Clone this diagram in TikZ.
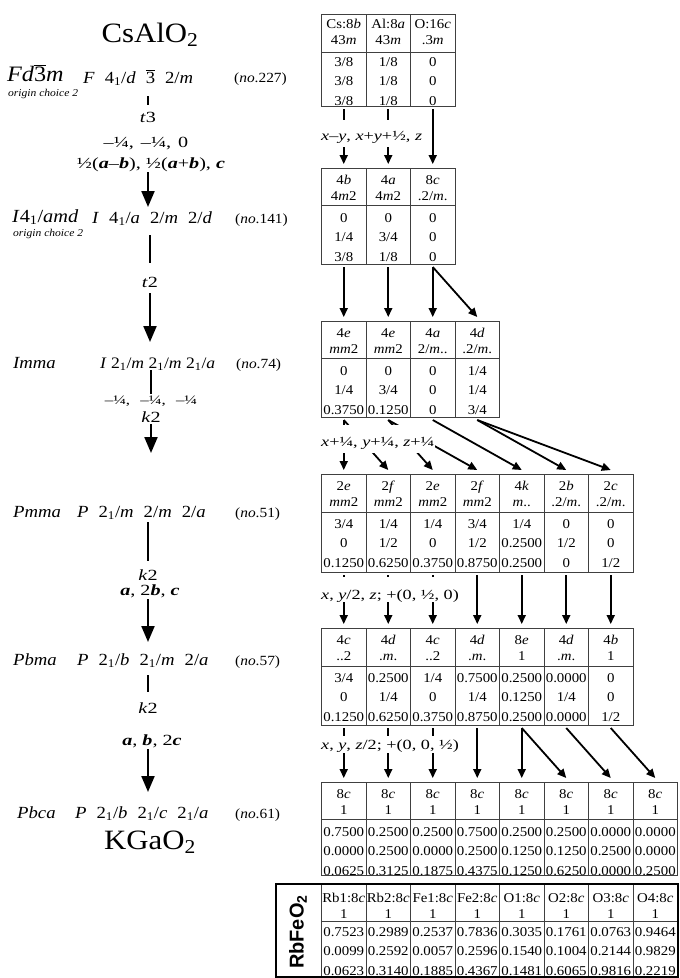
\documentclass[tikz,border=0pt]{standalone}
\usepackage{fontspec}
\setmainfont{Liberation Serif}[FakeStretch=1.1]
\newfontfamily\wide{Liberation Serif}[FakeStretch=1.3]
\newfontfamily\rbfont{Liberation Sans}
\usetikzlibrary{arrows.meta}
\newcommand\btr{\ensuremath{\overline{\mbox{3}}}}
\newcommand\bi[1]{\textbf{\textit{#1}}}
\newcommand\gp{\hspace{10pt}}
\def\hoffa{16}\def\hoffb{32.5}
\newcommand\tcol[8]{%
  \node[cell] (#1c#3a) at ({343.75+44.5*(#3-1)},{#2+\hoffa}) {#4};
  \node[cell] (#1c#3b) at ({343.75+44.5*(#3-1)},{#2+\hoffb}) {#5};
  \node[cell] (#1c#3x) at ({343.75+44.5*(#3-1)},{#2+54}) {#6};
  \node[cell] (#1c#3y) at ({343.75+44.5*(#3-1)},{#2+73.5}) {#7};
  \node[cell] (#1c#3z) at ({343.75+44.5*(#3-1)},{#2+93}) {#8};}
\newcommand\tgrid[4]{%
  \draw[grid] (321.5,#1) rectangle ({321.5+44.5*#4},#3);
  \draw[grid] (321.5,#2) -- ({321.5+44.5*#4},#2);
  \foreach \k in {2,...,#4}{\draw[grid] ({321.5+44.5*(\k-1)},#1) -- ({321.5+44.5*(\k-1)},#3);}}
\newcommand\tcoords[4]{%
  \foreach \k in {1,...,#4}{%
    \coordinate (#1top\k) at ({343.75+44.5*(\k-1)},{#2-4});
    \coordinate (#1bot\k) at ({343.75+44.5*(\k-1)},{#3+3});}}
\begin{document}
\begin{tikzpicture}[x=1pt,y=-1pt,
  cell/.style={font=\fontsize{13.5}{15}\selectfont, inner sep=0pt, anchor=base},
  grid/.style={draw=black!75, line width=0.8pt},
  ra/.style={line width=1.8pt, -{Triangle[length=9pt,width=8pt]}},
  la/.style={line width=2.2pt, -{Triangle[length=16pt,width=13pt]}},
  ll/.style={line width=2.2pt},
  sym/.style={font=\fontsize{17}{19}\selectfont, inner sep=0pt, anchor=base west},
  big/.style={font=\fontsize{22}{24}\selectfont, inner sep=0pt, anchor=base west},
  num/.style={font=\fontsize{14}{16}\selectfont, inner sep=0pt, anchor=base west},
  oc/.style={font=\fontsize{10.5}{12}\selectfont\itshape, inner sep=0pt, anchor=base west},
  tl/.style={font=\wide\fontsize{15.5}{17}\selectfont, inner sep=0pt, anchor=base},
  lbl/.style={fill=white, font=\wide\fontsize{14}{16}\selectfont, inner xsep=1pt, inner ysep=0pt, anchor=base west},
  title/.style={font=\fontsize{28}{30}\selectfont, inner sep=0pt}
]
\useasboundingbox (0,0) rectangle (680,978);

% ---------- left column ----------
\node[title] (cs) at (150,35) {CsAlO\textsubscript{2}};
\node[title] (kg) at (150,842) {KGaO\textsubscript{2}};

\node[big] (s1) at (7,81) {\textit{Fd}\btr\textit{m}};
\node[oc]  (o1) at (8,96) {origin choice 2};
\node[sym] (h1) at (83,83) {\textit{F}\gp 4\textsubscript{1}/\textit{d}\gp\btr\gp 2/\textit{m}};
\node[num] (n1) at (234,82) {(\textit{no}.227)};

\node[big, font=\fontsize{18.5}{20}\selectfont] (s2) at (12,222) {\textit{I}4\textsubscript{1}/\textit{amd}};
\node[oc]  (o2) at (13,236) {origin choice 2};
\node[sym] (h2) at (92,223) {\textit{I}\gp 4\textsubscript{1}/\textit{a}\gp 2/\textit{m}\gp 2/\textit{d}};
\node[num] (n2) at (235,223) {(\textit{no}.141)};

\node[sym] (s3) at (13,368) {\textit{Imma}};
\node[sym, font=\fontsize{16}{18}\selectfont] (h3) at (100,368) {\textit{I} 2\textsubscript{1}/\textit{m} 2\textsubscript{1}/\textit{m} 2\textsubscript{1}/\textit{a}};
\node[num] (n3) at (236,368) {(\textit{no}.74)};

\node[sym] (s4) at (13,517) {\textit{Pmma}};
\node[sym] (h4) at (77,517) {\textit{P}\gp 2\textsubscript{1}/\textit{m}\gp 2/\textit{m}\gp 2/\textit{a}};
\node[num] (n4) at (235,517) {(\textit{no}.51)};

\node[sym] (s5) at (13,665) {\textit{Pbma}};
\node[sym] (h5) at (77,665) {\textit{P}\gp 2\textsubscript{1}/\textit{b}\gp 2\textsubscript{1}/\textit{m}\gp 2/\textit{a}};
\node[num] (n5) at (235,665) {(\textit{no}.57)};

\node[sym] (s6) at (17,818) {\textit{Pbca}};
\node[sym] (h6) at (75,818) {\textit{P}\gp 2\textsubscript{1}/\textit{b}\gp 2\textsubscript{1}/\textit{c}\gp 2\textsubscript{1}/\textit{a}};
\node[num] (n6) at (235,818) {(\textit{no}.61)};

% labels on the left chain
\node[tl] (la1) at (148,122) {\textit{t}3};
\node[tl] (la2) at (146,147) {–¼,\hspace{2pt} –¼,\hspace{2pt} 0};
\node[tl] (la3) at (151,168) {½(\bi{a}–\bi{b}), ½(\bi{a}+\bi{b}), \bi{c}};
\node[tl] (lb1) at (150,287) {\textit{t}2};
\node[tl, font=\wide\fontsize{13}{14}\selectfont] (lc1) at (151,404) {–¼,\hspace{6pt} –¼,\hspace{6pt} –¼};
\node[tl] (lc2) at (151,422) {\textit{k}2};
\node[tl] (ld1) at (148,580) {\textit{k}2};
\node[tl] (ld2) at (150,595) {\bi{a}, 2\bi{b}, \bi{c}};
\node[tl] (le1) at (148,713) {\textit{k}2};
\node[tl] (le2) at (152,745) {\bi{a}, \bi{b}, 2\bi{c}};

\coordinate (a0) at (148,96);  \coordinate (a1) at (148,105);
\coordinate (a2) at (148,172); \coordinate (a3) at (148,207);
\coordinate (b0) at (150,235); \coordinate (b1) at (150,263);
\coordinate (b2) at (150,293); \coordinate (b3) at (150,342);
\coordinate (c0) at (151,370); \coordinate (c1) at (151,394);
\coordinate (c2) at (151,424); \coordinate (c3) at (151,453);
\coordinate (d0) at (148,522); \coordinate (d1) at (148,561);
\coordinate (d2) at (148,599); \coordinate (d3) at (148,642);
\coordinate (e0) at (148,675); \coordinate (e1) at (148,692);
\coordinate (e2) at (148,749); \coordinate (e3) at (148,792);
\draw[ll] (a0) -- (a1); \draw[la] (a2) -- (a3);
\draw[ll] (b0) -- (b1); \draw[la] (b2) -- (b3);
\draw[ll] (c0) -- (c1); \draw[la] (c2) -- (c3);
\draw[ll] (d0) -- (d1); \draw[la] (d2) -- (d3);
\draw[ll] (e0) -- (e1); \draw[la] (e2) -- (e3);

% ---------- tables ----------
% Table 1
\tgrid{14}{52}{106}{3}
\tcoords{A}{14}{106}{3}
\tcol{A}{12}{1}{Cs:8\textit{b}}{43\textit{m}}{3/8}{3/8}{3/8}
\tcol{A}{12}{2}{Al:8\textit{a}}{43\textit{m}}{1/8}{1/8}{1/8}
\tcol{A}{12}{3}{O:16\textit{c}}{.3\textit{m}}{0}{0}{0}
% Table 2
\tgrid{168}{205}{264}{3}
\tcoords{B}{168}{264}{3}
\tcol{B}{168}{1}{4\textit{b}}{4\textit{m}2}{0}{1/4}{3/8}
\tcol{B}{168}{2}{4\textit{a}}{4\textit{m}2}{0}{3/4}{1/8}
\tcol{B}{168}{3}{8\textit{c}}{.2/\textit{m}.}{0}{0}{0}
% Table 3
\tgrid{321}{358}{417}{4}
\tcoords{C}{321}{417}{4}
\tcol{C}{321}{1}{4\textit{e}}{\textit{mm}2}{0}{1/4}{0.3750}
\tcol{C}{321}{2}{4\textit{e}}{\textit{mm}2}{0}{3/4}{0.1250}
\tcol{C}{321}{3}{4\textit{a}}{2/\textit{m}..}{0}{0}{0}
\tcol{C}{321}{4}{4\textit{d}}{.2/\textit{m}.}{1/4}{1/4}{3/4}
% Table 4
\tgrid{474}{512}{572}{7}
\tcoords{D}{474}{572}{7}
\tcol{D}{474}{1}{2\textit{e}}{\textit{mm}2}{3/4}{0}{0.1250}
\tcol{D}{474}{2}{2\textit{f}}{\textit{mm}2}{1/4}{1/2}{0.6250}
\tcol{D}{474}{3}{2\textit{e}}{\textit{mm}2}{1/4}{0}{0.3750}
\tcol{D}{474}{4}{2\textit{f}}{\textit{mm}2}{3/4}{1/2}{0.8750}
\tcol{D}{474}{5}{4\textit{k}}{\textit{m}..}{1/4}{0.2500}{0.2500}
\tcol{D}{474}{6}{2\textit{b}}{.2/\textit{m}.}{0}{1/2}{0}
\tcol{D}{474}{7}{2\textit{c}}{.2/\textit{m}.}{0}{0}{1/2}
% Table 5
\tgrid{628}{666}{725}{7}
\tcoords{E}{628}{725}{7}
\tcol{E}{628}{1}{4\textit{c}}{..2}{3/4}{0}{0.1250}
\tcol{E}{628}{2}{4\textit{d}}{.\textit{m}.}{0.2500}{1/4}{0.6250}
\tcol{E}{628}{3}{4\textit{c}}{..2}{1/4}{0}{0.3750}
\tcol{E}{628}{4}{4\textit{d}}{.\textit{m}.}{0.7500}{1/4}{0.8750}
\tcol{E}{628}{5}{8\textit{e}}{1}{0.2500}{0.1250}{0.2500}
\tcol{E}{628}{6}{4\textit{d}}{.\textit{m}.}{0.0000}{1/4}{0.0000}
\tcol{E}{628}{7}{4\textit{b}}{1}{0}{0}{1/2}
% Table 6
\tgrid{782}{819}{875}{8}
\tcoords{F}{782}{875}{8}
\tcol{F}{782}{1}{8\textit{c}}{1}{0.7500}{0.0000}{0.0625}
\tcol{F}{782}{2}{8\textit{c}}{1}{0.2500}{0.2500}{0.3125}
\tcol{F}{782}{3}{8\textit{c}}{1}{0.2500}{0.0000}{0.1875}
\tcol{F}{782}{4}{8\textit{c}}{1}{0.7500}{0.2500}{0.4375}
\tcol{F}{782}{5}{8\textit{c}}{1}{0.2500}{0.1250}{0.1250}
\tcol{F}{782}{6}{8\textit{c}}{1}{0.2500}{0.1250}{0.6250}
\tcol{F}{782}{7}{8\textit{c}}{1}{0.0000}{0.2500}{0.0000}
\tcol{F}{782}{8}{8\textit{c}}{1}{0.0000}{0.0000}{0.2500}
% RbFeO2 table
\def\hoffa{20}\def\hoffb{36}
\tgrid{884}{921}{977}{8}
\tcol{G}{882}{1}{Rb1:8\textit{c}}{1}{0.7523}{0.0099}{0.0623}
\tcol{G}{882}{2}{Rb2:8\textit{c}}{1}{0.2989}{0.2592}{0.3140}
\tcol{G}{882}{3}{Fe1:8\textit{c}}{1}{0.2537}{0.0057}{0.1885}
\tcol{G}{882}{4}{Fe2:8\textit{c}}{1}{0.7836}{0.2596}{0.4367}
\tcol{G}{882}{5}{O1:8\textit{c}}{1}{0.3035}{0.1540}{0.1481}
\tcol{G}{882}{6}{O2:8\textit{c}}{1}{0.1761}{0.1004}{0.6065}
\tcol{G}{882}{7}{O3:8\textit{c}}{1}{0.0763}{0.2144}{0.9816}
\tcol{G}{882}{8}{O4:8\textit{c}}{1}{0.9464}{0.9829}{0.2219}
\draw[line width=2.5pt] (276,884) rectangle (678,977);
\node[rotate=90, inner sep=0pt, font=\rbfont\bfseries\fontsize{20}{22}\selectfont] (rb) at (298,932) {RbFeO\textsubscript{2}};

% ---------- arrows between tables ----------
\foreach \i/\j in {1/1,2/2,3/3} \draw[ra] (Abot\i) -- (Btop\j);
\foreach \i/\j in {1/1,2/2,3/3,3/4} \draw[ra] (Bbot\i) -- (Ctop\j);
\foreach \i/\j in {1/1,1/2,2/3,2/4,3/5,4/6,4/7} \draw[ra] (Cbot\i) -- (Dtop\j);
\foreach \i/\j in {1/1,2/2,3/3,4/4,5/5,6/6,7/7} \draw[ra] (Dbot\i) -- (Etop\j);
\foreach \i/\j in {1/1,2/2,3/3,4/4,5/5,5/6,6/7,7/8} \draw[ra] (Ebot\i) -- (Ftop\j);

% transformation labels (cover the arrows)
\node[lbl, text height=20pt, text depth=7pt] (t1) at (320,140) {\textit{x}–\textit{y}, \textit{x}+\textit{y}+½, \textit{z}};
\node[lbl, text height=21pt, text depth=7pt] (t2) at (320,446) {\textit{x}+¼, \textit{y}+¼, \textit{z}+¼};
\node[lbl, text height=22pt, text depth=3pt] (t3) at (320,599) {\textit{x}, \textit{y}/2, \textit{z}; +(0, ½, 0)};
\node[lbl, text height=13pt, text depth=4pt] (t4) at (320,749) {\textit{x}, \textit{y}, \textit{z}/2; +(0, 0, ½)};
\end{tikzpicture}
\end{document}
